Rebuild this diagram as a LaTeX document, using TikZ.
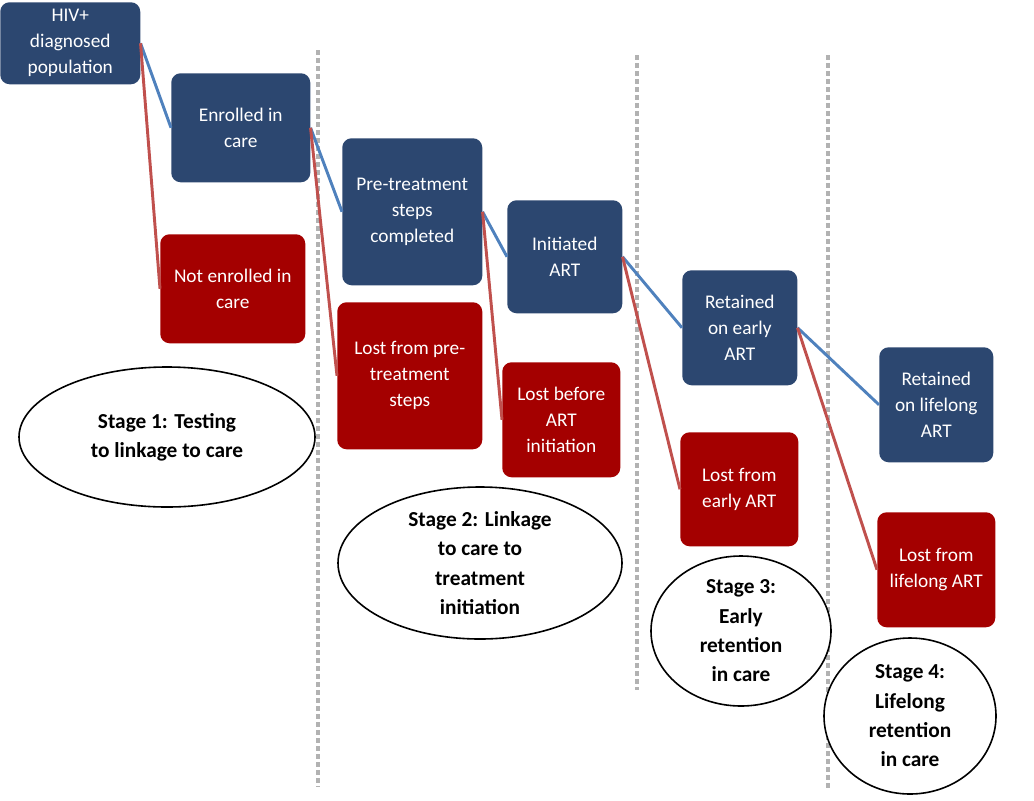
\documentclass[tikz,border=0pt]{standalone}
\usepackage{fontspec}
\setmainfont{Carlito}
\usetikzlibrary{shapes.geometric}
\definecolor{bx}{HTML}{2C4770}
\definecolor{rx}{HTML}{A40000}
\definecolor{bl}{HTML}{4F81BD}
\definecolor{rl}{HTML}{C0504D}
\def\pu{0.75pt}
\begin{document}
\begin{tikzpicture}[x=0.75pt,y=-0.75pt,
 box/.style={rounded corners=7pt,draw=none,text=white,align=center,font=\fontsize{14.5}{19.5}\selectfont,anchor=north west,inner sep=0pt},
 bbox/.style={box,fill=bx},
 rbox/.style={box,fill=rx},
 stage/.style={ellipse,draw=black,line width=1.2pt,fill=white,align=center,inner sep=0pt,font=\bfseries\fontsize{16}{22}\selectfont},
 bline/.style={bl,line width=2.2pt},
 rline/.style={rl,line width=2.2pt},
 sep/.style={gray!60,line width=2.5pt,dash pattern=on 4pt off 2pt}]
\useasboundingbox (0,0) rectangle (1034,800);
\draw[sep] (318,50) -- (318,787);
\draw[sep] (637,55) -- (637,690);
\draw[sep] (828,55) -- (828,790);
\node[bbox,minimum width=140*\pu,minimum height=82*\pu] (a) at (0,2) {HIV+\\diagnosed\\population};
\node[bbox,minimum width=139*\pu,minimum height=109*\pu] (b) at (171,73) {Enrolled in\\care};
\node[rbox,minimum width=145*\pu,minimum height=109*\pu] (c) at (160,234) {Not enrolled in\\care};
\node[bbox,minimum width=140*\pu,minimum height=147*\pu] (d) at (342,138) {Pre-treatment\\steps\\completed};
\node[rbox,minimum width=145*\pu,minimum height=147*\pu] (e) at (337,302) {Lost from pre-\\treatment\\steps};
\node[bbox,minimum width=115*\pu,minimum height=113*\pu] (f) at (507,200) {Initiated\\ART};
\node[rbox,minimum width=118*\pu,minimum height=115*\pu] (g) at (502,362) {Lost before\\ART\\initiation};
\node[bbox,minimum width=115*\pu,minimum height=115*\pu] (h) at (682,270) {Retained\\on early\\ART};
\node[rbox,minimum width=118*\pu,minimum height=114*\pu] (i) at (680,432) {Lost from\\early ART};
\node[bbox,minimum width=114*\pu,minimum height=115*\pu] (j) at (879,347) {Retained\\on lifelong\\ART};
\node[rbox,minimum width=118*\pu,minimum height=115*\pu] (k) at (877,512) {Lost from\\lifelong ART};
\draw[bline] (a.east) -- (b.west);
\draw[rline] (a.east) -- (c.west);
\draw[bline] (b.east) -- (d.west);
\draw[rline] (b.east) -- (e.west);
\draw[bline] (d.east) -- (f.west);
\draw[rline] (d.east) -- (g.west);
\draw[bline] (f.east) -- (h.west);
\draw[rline] (f.east) -- (i.west);
\draw[bline] (h.east) -- (j.west);
\draw[rline] (h.east) -- (k.west);
\node[stage,minimum width=296*\pu,minimum height=140*\pu] (s1) at (167,437) {Stage 1: Testing\\to linkage to care};
\node[stage,minimum width=284*\pu,minimum height=152*\pu] (s2) at (480,563) {Stage 2: Linkage\\to care to\\treatment\\initiation};
\node[stage,minimum width=180*\pu,minimum height=150*\pu] (s3) at (741,631) {Stage 3:\\Early\\retention\\in care};
\node[stage,minimum width=172*\pu,minimum height=156*\pu] (s4) at (910,716) {Stage 4:\\Lifelong\\retention\\in care};
\end{tikzpicture}
\end{document}
